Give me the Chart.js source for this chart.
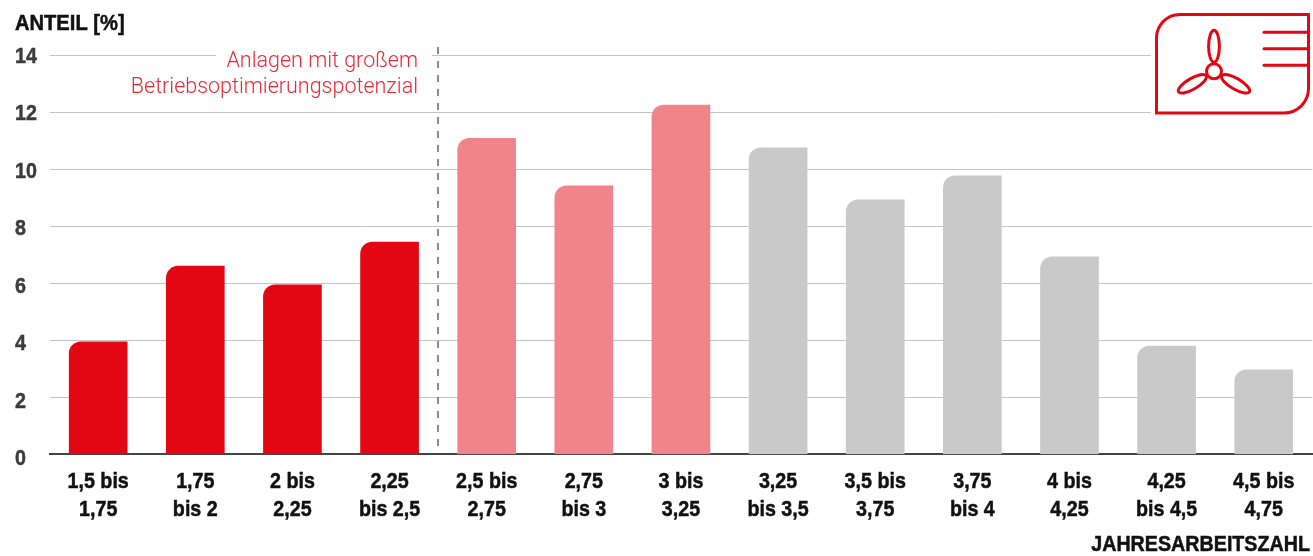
<!DOCTYPE html>
<html lang="de">
<head>
<meta charset="utf-8">
<title>Jahresarbeitszahl</title>
<script src="https://cdn.jsdelivr.net/npm/chart.js@4"></script>
<style>
  html, body { margin: 0; padding: 0; background: #fff; }
  #wrap { position: relative; width: 1313px; height: 556px; overflow: hidden; }
  canvas { display: block; }
</style>
</head>
<body>
<div id="wrap"><canvas id="c" width="1313" height="556"></canvas></div>
<script>
const categories = [
  ['1,5 bis', '1,75'], ['1,75', 'bis 2'], ['2 bis', '2,25'], ['2,25', 'bis 2,5'],
  ['2,5 bis', '2,75'], ['2,75', 'bis 3'], ['3 bis', '3,25'], ['3,25', 'bis 3,5'],
  ['3,5 bis', '3,75'], ['3,75', 'bis 4'], ['4 bis', '4,25'], ['4,25', 'bis 4,5'],
  ['4,5 bis', '4,75']
];
const shares = [3.95, 6.6, 5.95, 7.45, 11.09, 9.42, 12.25, 10.75, 8.93, 9.77, 6.93, 3.8, 2.96];
const barColors = [
  '#e30613', '#e30613', '#e30613', '#e30613',
  '#f1848a', '#f1848a', '#f1848a',
  '#c9c9c9', '#c9c9c9', '#c9c9c9', '#c9c9c9', '#c9c9c9', '#c9c9c9'
];
const yTicks = [0, 2, 4, 6, 8, 10, 12, 14];
const noteLines = ['Anlagen mit großem', 'Betriebsoptimierungspotenzial'];
const yTitle = 'ANTEIL [%]';
const xTitle = 'JAHRESARBEITSZAHL';

const RED = '#e30613';
const HEAVY = 'bold 22px "Liberation Sans", sans-serif';

// Heavy condensed lettering: a bold face squeezed horizontally, thickened slightly.
function narrowText(ctx, text, px, py, align, color, squeeze = 0.895) {
  ctx.save();
  ctx.font = HEAVY;
  ctx.fillStyle = color;
  ctx.strokeStyle = color;
  ctx.lineWidth = 0.5;
  ctx.textAlign = align;
  ctx.textBaseline = 'alphabetic';
  ctx.translate(px, py);
  ctx.scale(squeeze, 1);
  ctx.fillText(text, 0, 0);
  ctx.strokeText(text, 0, 0);
  ctx.restore();
}

const annotations = {
  id: 'annotations',
  afterDraw(chart) {
    const { ctx, scales: { x, y } } = chart;
    ctx.save();

    narrowText(ctx, yTitle, 15, 30, 'left', '#111', 0.915);
    narrowText(ctx, xTitle, 1310, 551, 'right', '#111');

    // Axis labels
    categories.forEach((lines, i) => {
      const px = x.getPixelForValue(i);
      narrowText(ctx, lines[0], px, 488, 'center', '#111');
      narrowText(ctx, lines[1], px, 515.5, 'center', '#111');
    });
    yTicks.forEach(v => {
      narrowText(ctx, String(v), 15, y.getPixelForValue(v) + 10.7 - v * 0.21, 'left', '#3c3c3c');
    });

    // Clear the top gridline behind the note, then set it.
    const top = y.getPixelForValue(14);
    ctx.fillStyle = '#fff';
    ctx.fillRect(216, top - 3, 216, 6);
    ctx.fillStyle = '#ee2737';
    ctx.font = '300 21.5px Roboto, sans-serif';
    ctx.textAlign = 'right';
    ctx.textBaseline = 'alphabetic';
    ctx.fillText(noteLines[0], 418, 67);
    ctx.fillText(noteLines[1], 418, 93);

    // Dashed divider between the 2,25 and 2,5 classes.
    ctx.strokeStyle = '#666';
    ctx.lineWidth = 1.5;
    ctx.setLineDash([7, 7]);
    ctx.beginPath();
    ctx.moveTo(438, 47);
    ctx.lineTo(438, 450);
    ctx.stroke();
    ctx.setLineDash([]);

    // Fan badge in the upper right corner.
    ctx.fillStyle = '#fff';
    ctx.fillRect(1151, 8, 162, 110);
    ctx.strokeStyle = RED;
    ctx.lineWidth = 3;
    ctx.lineJoin = 'miter';
    ctx.beginPath();
    ctx.moveTo(1308.5, 14.5);
    ctx.lineTo(1180, 14.5);
    ctx.arcTo(1156.5, 14.5, 1156.5, 38, 23.5);
    ctx.lineTo(1156.5, 113);
    ctx.lineTo(1284, 113);
    ctx.arcTo(1308.5, 113, 1308.5, 88, 24.5);
    ctx.closePath();
    ctx.stroke();
    ctx.lineCap = 'round';
    for (const ly of [32.3, 48.7, 65.3]) {
      ctx.beginPath();
      ctx.moveTo(1264, ly);
      ctx.lineTo(1308, ly);
      ctx.stroke();
    }
    ctx.lineCap = 'butt';
    const cx = 1214, cy = 71.3;
    ctx.lineWidth = 3;
    for (const angle of [-Math.PI / 2, Math.PI / 6, Math.PI * 5 / 6]) {
      ctx.beginPath();
      ctx.ellipse(cx + Math.cos(angle) * 25, cy + Math.sin(angle) * 25, 16, 5.4, angle, 0, Math.PI * 2);
      ctx.stroke();
    }
    ctx.beginPath();
    ctx.arc(cx, cy, 7.5, 0, Math.PI * 2);
    ctx.fillStyle = '#fff';
    ctx.fill();
    ctx.stroke();

    ctx.restore();
  }
};

new Chart(document.getElementById('c'), {
  type: 'bar',
  data: {
    labels: categories,
    datasets: [{
      data: shares,
      backgroundColor: barColors,
      barThickness: 58,
      borderRadius: { topLeft: 12, topRight: 0, bottomLeft: 0, bottomRight: 0 },
      borderSkipped: false
    }]
  },
  plugins: [annotations],
  options: {
    responsive: false,
    animation: false,
    layout: { padding: { left: 49.6, right: 0.7, top: 55.3, bottom: 101.7 } },
    plugins: { legend: { display: false }, tooltip: { enabled: false } },
    scales: {
      x: {
        grid: { display: false, drawTicks: false },
        border: { display: true, color: '#444', width: 2 },
        ticks: { display: false }
      },
      y: {
        min: 0, max: 14,
        afterBuildTicks(axis) { axis.ticks = yTicks.map(value => ({ value })); },
        grid: { color: '#c4c4c4', lineWidth: 1, drawTicks: false },
        border: { display: false },
        ticks: { display: false }
      }
    }
  }
});
</script>
</body>
</html>
